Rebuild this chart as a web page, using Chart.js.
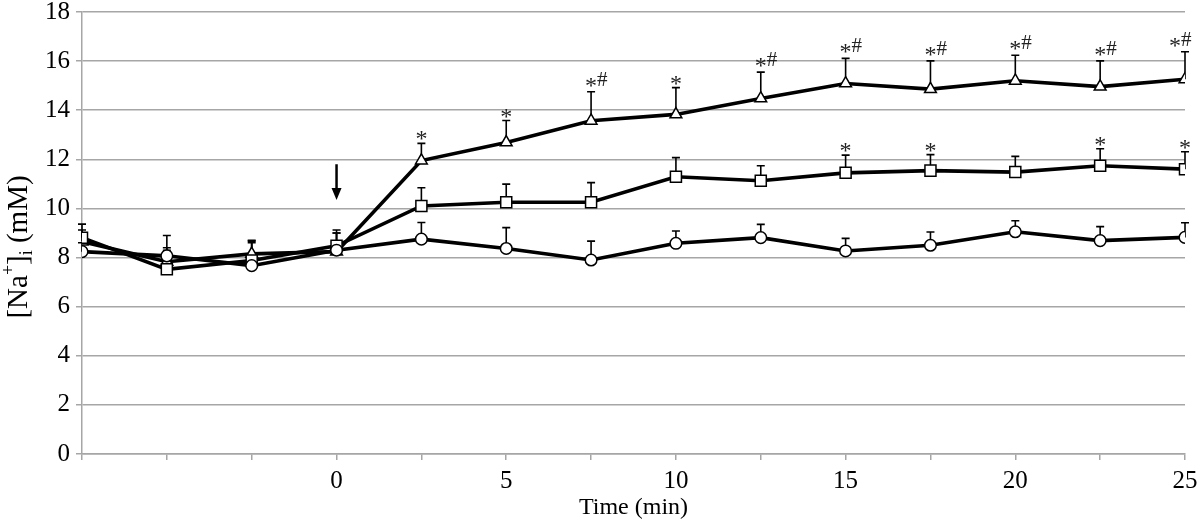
<!DOCTYPE html>
<html>
<head>
<meta charset="utf-8">
<script src="https://cdn.jsdelivr.net/npm/chart.js@4.4.1/dist/chart.umd.min.js"></script>
<style>
html,body{margin:0;padding:0;background:#fff;}
#wrap{width:1200px;height:522px;position:relative;}
</style>
</head>
<body>
<div id="wrap"><canvas id="c" width="1200" height="522"></canvas></div>
<script>
// ---- data ----
const times = [-7.5, -5, -2.5, 0, 2.5, 5, 7.5, 10, 12.5, 15, 17.5, 20, 22.5, 25];
const circleMean = [8.24, 8.07, 7.67, 8.30, 8.75, 8.37, 7.90, 8.58, 8.81, 8.27, 8.50, 9.05, 8.69, 8.82];
const circleTop  = [8.60, 8.90, 8.70, 9.00, 9.43, 9.22, 8.67, 9.08, 9.35, 8.78, 9.04, 9.50, 9.26, 9.42];
const squareMean = [8.81, 7.52, 7.88, 8.48, 10.10, 10.25, 10.25, 11.29, 11.13, 11.45, 11.54, 11.48, 11.74, 11.60];
const squareTop  = [9.36, 8.40, 8.67, 9.12, 10.84, 10.99, 11.05, 12.07, 11.74, 12.17, 12.19, 12.12, 12.43, 12.31];
const triMean    = [8.65, 7.83, 8.15, 8.24, 11.95, 12.69, 13.57, 13.83, 14.48, 15.09, 14.86, 15.20, 14.96, 15.26];
const triTop     = [9.12, 8.30, 8.60, 9.00, 12.65, 13.58, 14.75, 14.92, 15.55, 16.11, 16.01, 16.24, 16.01, 16.38];
const squareMarks = ["", "", "", "", "", "", "", "", "", "*", "*", "", "*", "*"];
const triMarks    = ["", "", "", "", "*", "*", "*#", "*", "*#", "*#", "*#", "*#", "*#", "*#"];
const xTickLabels = [0, 5, 10, 15, 20, 25];
const arrowX = 0, arrowFrom = 11.8, arrowTo = 10.34;

const FONT = '"Liberation Serif", "Times New Roman", serif';
const GRID = '#a6a6a6';

function pts(m){ return times.map((t,i)=>({x:t,y:m[i]})); }

const errTops = [circleTop, squareTop, triTop];
const marks = [null, squareMarks, triMarks];

const errorPlugin = {
  id:'errbars',
  beforeDatasetsDraw(chart){
    const ctx = chart.ctx, xs = chart.scales.x, ys = chart.scales.y;
    ctx.save();
    ctx.strokeStyle = '#000'; ctx.lineWidth = 1.6;
    chart.data.datasets.forEach((ds, di)=>{
      const top = errTops[di];
      ds.data.forEach((p,i)=>{
        const x = xs.getPixelForValue(p.x);
        const y0 = ys.getPixelForValue(p.y);
        const y1 = ys.getPixelForValue(top[i]);
        ctx.beginPath();
        ctx.moveTo(x, y0); ctx.lineTo(x, y1);
        ctx.moveTo(x-4, y1); ctx.lineTo(x+4, y1);
        ctx.stroke();
      });
    });
    ctx.restore();
  },
  afterDatasetsDraw(chart){
    const ctx = chart.ctx, xs = chart.scales.x, ys = chart.scales.y;
    ctx.save();
    ctx.fillStyle = '#222';
    ctx.textBaseline = 'alphabetic';
    chart.data.datasets.forEach((ds, di)=>{
      const m = marks[di]; if(!m) return;
      ds.data.forEach((p,i)=>{
        if(!m[i]) return;
        let x = xs.getPixelForValue(p.x);
        const y = ys.getPixelForValue(errTops[di][i]);
        const label = m[i];
        ctx.font = '24px ' + FONT; ctx.textAlign = 'center';
        if(label === '*'){
          ctx.fillText('*', x, y + 3);
        } else {
          if (x > chart.chartArea.right - 12) x -= 10;
          ctx.fillText('*', x, y + 1);
          ctx.textAlign = 'left';
          ctx.font = '21px ' + FONT;
          ctx.fillText('#', x + 6, y - 6);
        }
      });
    });
    // arrow
    const ax = xs.getPixelForValue(arrowX);
    const ay0 = ys.getPixelForValue(arrowFrom), ay1 = ys.getPixelForValue(arrowTo);
    ctx.strokeStyle = '#000'; ctx.lineWidth = 2.5;
    ctx.beginPath(); ctx.moveTo(ax, ay0); ctx.lineTo(ax, ay1 - 8); ctx.stroke();
    ctx.fillStyle = '#000';
    ctx.beginPath(); ctx.moveTo(ax-5, ay1-12); ctx.lineTo(ax+5, ay1-12); ctx.lineTo(ax, ay1); ctx.closePath(); ctx.fill();
    // y-axis title with sup/sub
    ctx.save();
    ctx.translate(19, 247);
    ctx.rotate(-Math.PI/2);
    ctx.fillStyle = '#000';
    ctx.textBaseline = 'middle';
    ctx.textAlign = 'left';
    const big = '29px ' + FONT, small = '18px ' + FONT;
    const parts = [['[Na', big, 0], ['+', small, -10], [']', big, 0], ['i', small, 8], [' (mM)', big, 0]];
    let w = 0;
    parts.forEach(p=>{ ctx.font = p[1]; w += ctx.measureText(p[0]).width; });
    let cx = -w/2;
    parts.forEach(p=>{ ctx.font = p[1]; ctx.fillText(p[0], cx, p[2]); cx += ctx.measureText(p[0]).width; });
    ctx.restore();
    ctx.restore();
  }
};

function ds(data, style){
  return {
    data: pts(data),
    borderColor:'#000', borderWidth:3.6,
    pointStyle: style,
    pointRadius: style==='triangle' ? 6.8 : (style==='rect' ? 7.8 : 5.8),
    pointBackgroundColor:'#fff', pointBorderColor:'#000', pointBorderWidth:1.5,
    pointHoverRadius: 6, tension:0, fill:false
  };
}

new Chart(document.getElementById('c'), {
  type:'line',
  data:{ datasets:[ ds(circleMean,'circle'), ds(squareMean,'rect'), ds(triMean,'triangle') ] },
  options:{
    responsive:false, animation:false, devicePixelRatio:1,
    layout:{ padding:{ left:0, right:15, top:12, bottom:0 } },
    plugins:{ legend:{display:false}, tooltip:{enabled:false} },
    scales:{
      x:{
        type:'linear', min:-7.5, max:25,
        afterFit(s){ s.height = 68; s.paddingLeft = 0; s.paddingRight = 0; },
        afterBuildTicks(s){ s.ticks = times.map(v=>({value:v})); },
        ticks:{
          autoSkip:false, maxRotation:0, padding:6,
          color:'#000', font:{family:FONT, size:25},
          callback(v){ return xTickLabels.includes(v) ? String(v) : ''; }
        },
        grid:{ drawOnChartArea:false, drawTicks:true, tickLength:6, color:GRID, lineWidth:1.5 },
        border:{ color:GRID, width:1.5 },
        title:{ display:true, text:'Time (min)', color:'#000', font:{family:FONT, size:24}, padding:{top:0,bottom:0} }
      },
      y:{
        min:0, max:18,
        afterFit(s){ s.width = 82; s.paddingTop = 0; s.paddingBottom = 0; },
        ticks:{ stepSize:2, color:'#000', font:{family:FONT, size:25}, padding:6 },
        grid:{ color:GRID, lineWidth:1.5, tickLength:6 },
        border:{ color:GRID, width:1.5 }
      }
    }
  },
  plugins:[errorPlugin]
});
</script>
</body>
</html>
